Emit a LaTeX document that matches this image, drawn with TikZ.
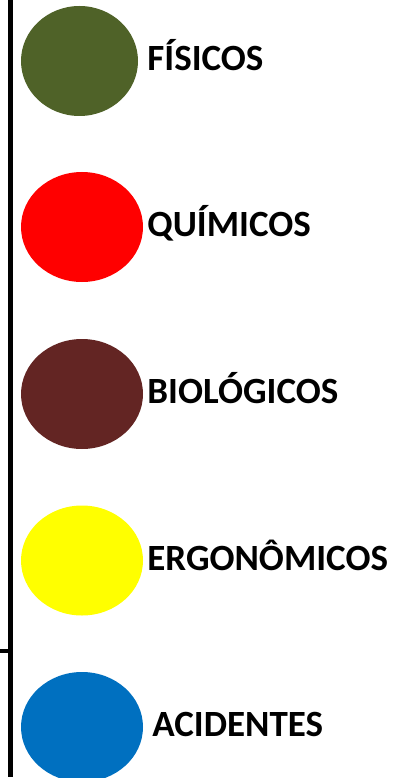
\documentclass[tikz,border=0pt]{standalone}
\usepackage{fontspec}
\setmainfont{Carlito}
\usetikzlibrary{shapes,positioning}
\definecolor{fisico}{HTML}{4F6228}
\definecolor{quimico}{HTML}{FF0000}
\definecolor{biologico}{HTML}{632523}
\definecolor{ergonomico}{HTML}{FFFF00}
\definecolor{acidente}{HTML}{0070C0}
\tikzstyle{risk}=[ellipse,minimum width=122pt,minimum height=110pt,inner sep=0pt]
\tikzstyle{label} = [font=\bfseries\fontsize{37}{40}\selectfont,inner sep=0pt,text height=19.5pt,text depth=0pt]
\tikzstyle{bar} = [draw,line width=5pt,-]

\begin{document}
\begin{tikzpicture}[x=1pt,y=-1pt]
\useasboundingbox (0,0) rectangle (402,778);

% the risk colours
\node[risk,fill=fisico,minimum width=117pt] (r1) at (79.5,61) {};
\foreach \pos / \name / \col in {{(82,227)/r2/quimico},
{(82,394)/r3/biologico},
{(82,560.5)/r4/ergonomico},
{(82,727)/r5/acidente}}
\node[risk,fill=\col] (\name) at \pos {};

% and their names
\node[label,right=9pt of r1,anchor=west] (t1) {FÍSICOS};
\node[label,right=4pt of r2,anchor=west] (t2) {QUÍMICOS};
\node[label,right=4pt of r3,anchor=west] (t3) {BIOLÓGICOS};
\node[label,right=4pt of r4,anchor=west] (t4) {ERGONÔMICOS};
\node[label,right=9pt of r5,anchor=west] (t5) {ACIDENTES};

% the bracket on the left
\coordinate (top) at (10,0);
\coordinate (bottom) at (10,777);
\coordinate (tick) at (0,651);
\path[bar] (top) -- (bottom);
\draw[line width=4pt] (tick) -- (tick -| top);

\end{tikzpicture}
\end{document}
